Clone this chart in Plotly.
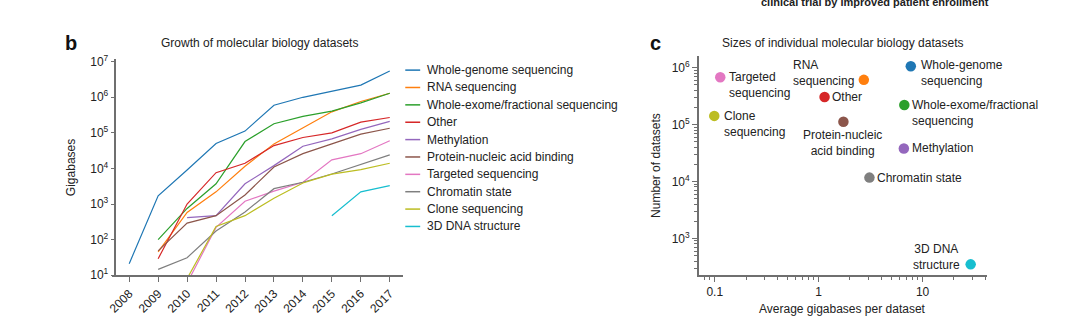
import numpy as np
import plotly.graph_objects as go

# ---------------- data ----------------
years = list(range(2008, 2018))
categories = ["Whole-genome sequencing", "RNA sequencing", "Whole-exome/fractional sequencing",
              "Other", "Methylation", "Protein-nucleic acid binding", "Targeted sequencing",
              "Chromatin state", "Clone sequencing", "3D DNA structure"]

whole_genome = [21, 1700, 9000, 50000, 112000, 600000, 1.0e6, 1.45e6, 2.2e6, 5.5e6]
rna_seq = [None, 45, 580, 2200, 11500, 49000, 140000, 390000, 760000, 1.3e6]
whole_exome = [None, 100, 750, 3700, 57000, 180000, 290000, 410000, 700000, 1.3e6]
other = [None, 29, 1000, 7600, 14000, 44000, 74000, 100000, 200000, 270000]
methylation = [None, None, 415, 470, 3700, 12000, 42000, 68000, 125000, 210000]
protein_na = [None, 48, 290, 470, 1800, 11000, 26000, 49000, 92000, 135000]
targeted = [None, None, 6, 220, 1200, 2300, 4100, 17500, 26000, 60000]
chromatin = [None, 14.5, 31, 175, 600, 2700, 4100, 7000, 13000, 24000]
clone_seq = [None, None, 8, 235, 470, 1450, 3900, 6900, 9300, 14000]
dna_3d = [None, None, None, None, None, None, None, 470, 2200, 3300]
growth_series = [whole_genome, rna_seq, whole_exome, other, methylation, protein_na,
                 targeted, chromatin, clone_seq, dna_3d]

# panel c
size_categories = ["Targeted sequencing", "Clone sequencing", "RNA sequencing", "Other",
                   "Protein-nucleic acid binding", "Whole-genome sequencing",
                   "Whole-exome/fractional sequencing", "Methylation", "Chromatin state",
                   "3D DNA structure"]
size_labels = ["Targeted<br>sequencing", "Clone<br>sequencing", "RNA<br>sequencing", "Other",
               "Protein-nucleic<br>acid binding", "Whole-genome<br>sequencing",
               "Whole-exome/fractional<br>sequencing", "Methylation", "Chromatin state",
               "3D DNA<br>structure"]
avg_gigabases = [0.113, 0.099, 2.72, 1.14, 1.73, 7.7, 6.67, 6.6, 3.08, 29]
n_datasets = [680000, 142000, 610000, 305000, 112000, 1.06e6, 220000, 38000, 11700, 350]

left_exponents = [1, 2, 3, 4, 5, 6, 7]
right_y_exponents = [3, 4, 5, 6]
right_x_ticks = [0.1, 1, 10]
right_x_ticktext = ["0.1", "1", "10"]

# ---------------- style ----------------
palette = ["#1f77b4", "#ff7f0e", "#2ca02c", "#d62728", "#9467bd", "#8c564b",
           "#e377c2", "#7f7f7f", "#bcbd22", "#17becf"]
color_of = dict(zip(categories, palette))
FONT = "Liberation Sans, Arial, sans-serif"
TXT = "#222222"
AX = "#6f6f6f"
W, H = 1080, 336

def px(x):
    return x / W

def py(y):
    return 1 - y / H

# label placement: (xanchor, yanchor, align, xshift, yshift)
label_style = [("left", "middle", "left", 7, -8),
               ("left", "middle", "left", 8, -8),
               ("right", "middle", "left", -8, 7),
               ("left", "middle", "left", 5, 0),
               ("center", "middle", "center", -1, -21),
               ("left", "middle", "left", 8, -7),
               ("left", "middle", "left", 6, -8),
               ("left", "middle", "left", 6, 0),
               ("left", "middle", "left", 6, 0),
               ("right", "middle", "center", -9, 7)]

fig = go.Figure()

for name, vals in zip(categories, growth_series):
    fig.add_trace(go.Scatter(x=years, y=vals, mode="lines", name=name,
                             line=dict(color=color_of[name], width=1.2),
                             connectgaps=False, showlegend=False,
                             xaxis="x", yaxis="y"))

fig.add_trace(go.Scatter(x=avg_gigabases, y=n_datasets, mode="markers",
                         marker=dict(size=10.5, color=[color_of[c] for c in size_categories],
                                     line=dict(width=0)),
                         showlegend=False, xaxis="x2", yaxis="y2"))

annotations = []
for lab, xv, yv, st in zip(size_labels, avg_gigabases, n_datasets, label_style):
    xa, ya, al, xs, ys = st
    annotations.append(dict(xref="x2", yref="y2", x=np.log10(xv), y=np.log10(yv),
                            text=lab, showarrow=False, xanchor=xa, yanchor=ya, align=al,
                            xshift=xs, yshift=ys, font=dict(family=FONT, size=12, color=TXT)))

# manual legend for panel b
shapes = []
for i, name in enumerate(categories):
    yy = 66.7 + i * 18.07
    shapes.append(dict(type="line", xref="paper", yref="paper",
                       x0=px(401.5), x1=px(416.5), y0=py(yy), y1=py(yy),
                       line=dict(color=color_of[name], width=1.5)))
    annotations.append(dict(xref="paper", yref="paper", x=px(421), y=py(yy), text=name,
                            showarrow=False, xanchor="left", yanchor="middle",
                            font=dict(family=FONT, size=12, color=TXT)))

# titles, panel letters, axis titles
def ptext(x, y, text, size=12, bold=False, angle=0, xanchor="center"):
    t = "<b>%s</b>" % text if bold else text
    return dict(xref="paper", yref="paper", x=px(x), y=py(y), text=t, showarrow=False,
                xanchor=xanchor, yanchor="middle", textangle=angle,
                font=dict(family=FONT, size=size, color="#111111" if bold else TXT))

annotations += [
    ptext(254.5, 39, "Growth of molecular biology datasets"),
    ptext(841, 39, "Sizes of individual molecular biology datasets"),
    ptext(65, 38, "b", size=20, bold=True),
    ptext(653, 38, "c", size=20, bold=True),
    ptext(65, 168, "Gigabases", angle=-90),
    ptext(653, 166, "Number of datasets", angle=-90),
    ptext(840.7, 315, "Average gigabases per dataset"),
    ptext(874, -4, "<b>clinical trial by improved patient enrollment</b>", size=11),
]

axis_common = dict(showline=True, linecolor=AX, linewidth=1.5, ticks="outside",
                   tickcolor=AX, tickwidth=1.2, showgrid=False, zeroline=False,
                   tickfont=dict(family=FONT, size=12, color=TXT))

right_x_minor = [m * 10.0 ** e for e in (-2, -1, 0, 1) for m in range(2, 10)]
right_x_minor = [v for v in right_x_minor if 0.0705 < v < 41.5]
right_y_minor = [m * 10.0 ** e for e in (2, 3, 4, 5, 6) for m in range(2, 10)]
right_y_minor = [v for v in right_y_minor if 226 < v < 1.62e6]

fig.update_layout(
    width=W, height=H, margin=dict(l=0, r=0, t=0, b=0),
    paper_bgcolor="white", plot_bgcolor="white",
    font=dict(family=FONT, size=12, color=TXT),
    xaxis=dict(domain=[px(107), px(399)], range=[2007.42, 2017.45], anchor="y",
               tickvals=years, ticktext=[str(y) for y in years], tickangle=-45,
               ticklen=5, **axis_common),
    yaxis=dict(domain=[py(280), py(55)], type="log", range=[1, 7.08],
               anchor="free", position=px(110),
               tickvals=[10 ** e for e in left_exponents],
               ticktext=["10<sup>%d</sup>" % e for e in left_exponents],
               ticklen=4, **axis_common),
    xaxis2=dict(domain=[px(696.7), px(986)], type="log", range=[-1.153, 1.615], anchor="y2",
                tickvals=right_x_ticks, ticktext=right_x_ticktext, ticklen=5,
                minor=dict(tickvals=right_x_minor, ticks="outside", ticklen=3,
                           tickcolor=AX, tickwidth=1),
                **axis_common),
    yaxis2=dict(domain=[py(280), py(51.7)], type="log", range=[2.354, 6.21], anchor="x2",
                tickvals=[10 ** e for e in right_y_exponents],
                ticktext=["10<sup>%d</sup>" % e for e in right_y_exponents], ticklen=5,
                minor=dict(tickvals=right_y_minor, ticks="outside", ticklen=3,
                           tickcolor=AX, tickwidth=1),
                **axis_common),
    annotations=annotations, shapes=shapes, showlegend=False,
)

fig.write_html("out.html")
